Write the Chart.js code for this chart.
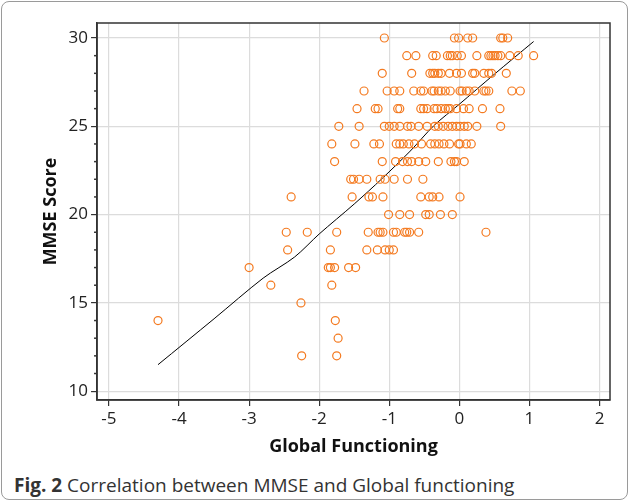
<!DOCTYPE html>
<html><head><meta charset="utf-8">
<script src="https://cdn.jsdelivr.net/npm/chart.js@4"></script>
<style>
body{margin:0;background:#fff;font-family:"Open Sans",sans-serif;}
#frame{position:absolute;left:1px;top:1px;width:625px;height:497px;border:1px solid #9a9a9a;border-radius:8px;overflow:hidden;}
#wrap{position:absolute;left:0;top:0;width:625px;height:460px;}
#cap{position:absolute;left:12px;top:470px;font-size:19px;color:#333;}
</style></head><body>
<div id="frame"><div id="wrap"><canvas id="c"></canvas></div>
<div id="cap"><b>Fig. 2</b> Correlation between MMSE and Global functioning</div></div>
<script>
'use strict';
// points grouped by MMSE score row: global functioning values
const rows = {
  30: [-1.07,-0.07,-0.01,0.12,0.19,0.59,0.62,0.69],
  29: [-0.75,-0.62,-0.38,-0.33,-0.17,-0.13,-0.10,-0.03,0.03,0.25,0.42,0.45,0.48,0.51,0.55,0.59,0.72,0.84,1.06],
  28: [-1.10,-0.68,-0.42,-0.38,-0.35,-0.30,-0.26,-0.14,-0.04,0.03,0.19,0.22,0.35,0.42,0.46,0.67],
  27: [-1.36,-1.03,-0.93,-0.85,-0.65,-0.55,-0.51,-0.39,-0.36,-0.30,-0.26,-0.20,-0.13,0.01,0.04,0.10,0.14,0.22,0.35,0.38,0.42,0.75,0.87],
  26: [-1.46,-1.20,-1.16,-0.88,-0.85,-0.55,-0.51,-0.46,-0.36,-0.32,-0.26,-0.20,-0.16,-0.13,-0.04,0.06,0.14,0.33,0.58],
  25: [-1.72,-1.43,-1.07,-1.00,-0.93,-0.85,-0.74,-0.69,-0.58,-0.46,-0.35,-0.30,-0.23,-0.16,-0.10,-0.04,0.01,0.07,0.12,0.25,0.59],
  24: [-1.82,-1.49,-1.22,-1.14,-0.90,-0.85,-0.80,-0.72,-0.64,-0.54,-0.41,-0.35,-0.29,-0.22,-0.14,-0.01,0.01,0.10,0.17],
  23: [-1.78,-1.10,-0.91,-0.81,-0.74,-0.68,-0.58,-0.48,-0.30,-0.12,-0.07,-0.04,0.07],
  22: [-1.55,-1.51,-1.43,-1.32,-1.13,-1.06,-0.93,-0.74,-0.52],
  21: [-2.40,-1.53,-1.29,-1.24,-1.09,-0.55,-0.43,-0.38,-0.29,0.01],
  20: [-1.01,-0.85,-0.71,-0.48,-0.43,-0.27,-0.10],
  19: [-2.47,-2.17,-1.75,-1.30,-1.16,-1.13,-1.09,-0.94,-0.90,-0.78,-0.75,-0.71,-0.58,0.38],
  18: [-2.45,-1.84,-1.32,-1.17,-1.06,-1.00,-0.94],
  17: [-3.00,-1.87,-1.84,-1.78,-1.58,-1.48],
  16: [-2.69,-1.82],
  15: [-2.26],
  14: [-4.30,-1.77],
  13: [-1.73],
  12: [-2.25,-1.75]
};
// smoothed fit line
const fitX = [-4.3,-3.5,-2.8,-2.35,-2.0,-1.5,-1.1,-0.7,-0.36,0,0.5,1.06];
const fitY = [11.5,14.1,16.4,17.6,18.9,20.6,22.05,23.6,25.05,26.25,27.95,29.8];
const xTicks = [-5,-4,-3,-2,-1,0,1,2];
const yTicks = [10,15,20,25,30];

const points = [];
Object.keys(rows).forEach(k => rows[k].forEach(x => points.push({x, y: +k})));
const fit = fitX.map((x, i) => ({x, y: fitY[i]}));

const gridOn = { color: '#dcdcdc', lineWidth: 1.2, tickColor: '#333', tickLength: 6 };
new Chart(document.getElementById('c'), {
  type: 'scatter',
  data: { datasets: [
    { data: points, pointStyle: 'circle', radius: 4, borderColor: '#f47a20', backgroundColor: 'rgba(0,0,0,0)', borderWidth: 1.2 },
    { type: 'line', data: fit, showLine: true, borderColor: '#000', borderWidth: 1, pointRadius: 0, tension: 0.3, fill: false }
  ]},
  options: {
    responsive: true, maintainAspectRatio: false, animation: false,
    layout: { padding: { top: 21, right: 17, left: 34, bottom: 0 } },
    plugins: { legend: { display: false }, tooltip: { enabled: false } },
    scales: {
      x: { type: 'linear', min: -5.17, max: 2.15, afterBuildTicks: a => { a.ticks = xTicks.map(v => ({value: v})); },
        grid: gridOn, border: { color: '#333', width: 1.5 },
        ticks: { color: '#222', font: { family: 'Open Sans', size: 17 } },
        title: { display: true, text: 'Global Functioning', color: '#111', font: { family: 'Open Sans', size: 18, weight: 'bold' } } },
      y: { min: 9.5, max: 30.85, afterBuildTicks: a => { a.ticks = yTicks.map(v => ({value: v})); },
        grid: gridOn, border: { color: '#333', width: 1.5 },
        ticks: { color: '#222', font: { family: 'Open Sans', size: 17 } },
        title: { display: true, text: 'MMSE Score', color: '#111', font: { family: 'Open Sans', size: 18, weight: 'bold' } } }
    }
  },
  plugins: [{ id: 'box', afterDraw(ch) {
    const a = ch.chartArea, g = ch.ctx, ys = ch.scales.y;
    g.save(); g.strokeStyle = '#333'; g.lineWidth = 1.5;
    g.strokeRect(a.left, a.top, a.right - a.left, a.bottom - a.top);
    for (let v = 11; v <= 30; v++) { if (v % 5) { const p = ys.getPixelForValue(v); g.beginPath(); g.moveTo(a.left - 3, p); g.lineTo(a.left, p); g.stroke(); } }
    g.restore();
  }}]
});
</script></body></html>
